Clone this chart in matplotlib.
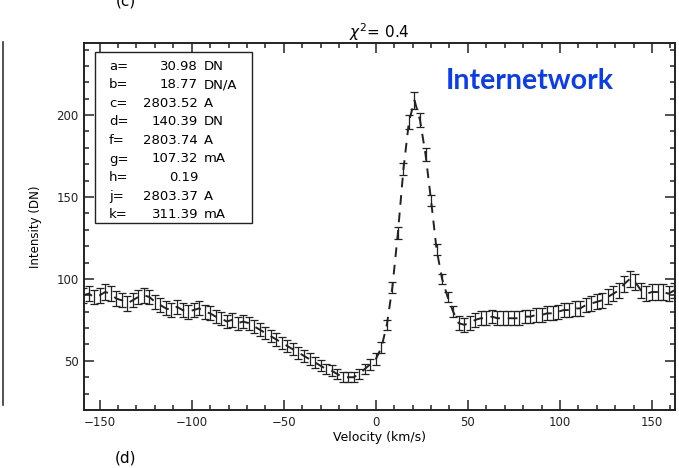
"""
Line profile with error bars: Internetwork, chi^2 = 0.4.
Writes out.png (679x468).
"""
import matplotlib.pyplot as plt
from matplotlib.ticker import MultipleLocator
from matplotlib.lines import Line2D

VEL = [
    -159, -156, -153, -150, -147, -144, -141, -138, -135, -132,
    -129, -126, -123, -120, -117, -114, -111, -108, -105, -102,
    -99, -96, -93, -90, -87, -84, -81, -78, -75, -72,
    -69, -66, -63, -60, -57, -54, -51, -48, -45, -42,
    -39, -36, -33, -30, -27, -24, -21, -18, -15, -12,
    -9, -6, -3, 0, 3, 6, 9, 12, 15, 18,
    21, 24, 27, 30, 33, 36, 39, 42, 45, 48,
    51, 54, 57, 60, 63, 66, 69, 72, 75, 78,
    81, 84, 87, 90, 93, 96, 99, 102, 105, 108,
    111, 114, 117, 120, 123, 126, 129, 132, 135, 138,
    141, 144, 147, 150, 153, 156, 159, 162,
]
INTENSITY = [
    90, 91, 89, 90, 92, 91, 88, 87, 85, 87,
    89, 90, 89, 86, 84, 82, 81, 83, 81, 80,
    81, 82, 80, 79, 77, 76, 74, 75, 73, 74,
    73, 71, 69, 67, 65, 63, 61, 59, 57, 55,
    53, 51, 49, 47, 45, 44, 42, 40, 40, 40,
    42, 45, 48, 51, 58, 72, 95, 128, 167, 196,
    209, 197, 176, 148, 118, 100, 89, 80, 73, 72,
    73, 75, 76, 76, 77, 76, 76, 76, 76, 76,
    77, 77, 78, 78, 79, 79, 80, 81, 81, 82,
    82, 84, 85, 86, 87, 89, 91, 93, 97, 100,
    98, 93, 91, 92, 92, 92, 91, 93,
]
ERROR = [
    4.5, 4.5, 4.5, 4.5, 4.6, 4.5, 4.4, 4.4, 4.4, 4.4,
    4.5, 4.5, 4.5, 4.4, 4.3, 4.3, 4.3, 4.3, 4.3, 4.2,
    4.3, 4.3, 4.2, 4.2, 4.2, 4.1, 4.1, 4.1, 4.0, 4.1,
    4.0, 4.0, 3.9, 3.9, 3.8, 3.8, 3.7, 3.7, 3.6, 3.6,
    3.5, 3.5, 3.4, 3.3, 3.3, 3.2, 3.2, 3.1, 3.1, 3.1,
    3.2, 3.3, 3.4, 3.5, 3.3, 3.2, 3.3, 3.5, 3.8, 4.2,
    5.0, 4.2, 3.8, 3.5, 3.3, 3.2, 3.3, 3.5, 4.1, 4.1,
    4.1, 4.2, 4.2, 4.2, 4.2, 4.2, 4.2, 4.2, 4.2, 4.2,
    4.2, 4.2, 4.3, 4.3, 4.3, 4.3, 4.3, 4.3, 4.3, 4.4,
    4.4, 4.4, 4.5, 4.5, 4.5, 4.6, 4.6, 4.7, 4.8, 4.8,
    4.8, 4.7, 4.6, 4.6, 4.6, 4.6, 4.6, 4.7,
]

PARAM_NAMES = ["a=", "b=", "c=", "d=", "f=", "g=", "h=", "j=", "k="]
PARAM_VALUES = ["30.98", "18.77", "2803.52", "140.39", "2803.74",
                "107.32", "0.19", "2803.37", "311.39"]
PARAM_UNITS = ["DN", "DN/A", "A", "DN", "A", "mA", "", "A", "mA"]

W, H = 679, 468


def plot():
    fig = plt.figure(figsize=(W / 100, H / 100), dpi=100)
    ax = fig.add_axes([84 / W, 1 - 410 / H, (675 - 84) / W, (410 - 43) / H])

    ax.errorbar(VEL, INTENSITY, yerr=ERROR, fmt="none", ecolor="#222222",
                elinewidth=0.9, capsize=2.7, capthick=0.9, zorder=3)
    ax.plot(VEL, INTENSITY, color="#222222", lw=1.4, dashes=(5, 4), zorder=2)

    ax.set_xlim(-158.5, 162.5)
    ax.set_ylim(20, 244)
    ax.xaxis.set_major_locator(MultipleLocator(50))
    ax.xaxis.set_minor_locator(MultipleLocator(10))
    ax.yaxis.set_major_locator(MultipleLocator(50))
    ax.yaxis.set_minor_locator(MultipleLocator(10))
    ax.set_yticks([50, 100, 150, 200])
    ax.tick_params(which="both", direction="in", top=True, right=True,
                   width=1.1, labelsize=8.5, colors="#222222")
    ax.tick_params(which="major", length=7.5, pad=4)
    ax.tick_params(which="minor", length=3.5)
    for s in ax.spines.values():
        s.set_linewidth(1.4)
        s.set_color("#222222")

    ax.set_xlabel("Velocity (km/s)", fontsize=9, labelpad=2)
    ax.set_ylabel("Intensity (DN)", fontsize=8.5, labelpad=10)
    ax.set_title(r"$\chi^2$= 0.4", fontsize=11, pad=2)

    # fit parameter box
    box_l, box_r, box_t, box_b = 95, 252, 52, 223
    fig.add_artist(plt.Rectangle((box_l / W, 1 - box_b / H),
                                 (box_r - box_l) / W, (box_b - box_t) / H,
                                 transform=fig.transFigure, fill=False,
                                 lw=1.0, ec="#222222", zorder=5))
    y0, dy = 66, 18.6
    for i, (n, v, u) in enumerate(zip(PARAM_NAMES, PARAM_VALUES, PARAM_UNITS)):
        y = 1 - (y0 + i * dy) / H
        fig.text(109 / W, y, n, fontsize=9.5, va="center", ha="left")
        fig.text(198 / W, y, v, fontsize=9.5, va="center", ha="right")
        fig.text(204 / W, y, u, fontsize=9.5, va="center", ha="left")

    fig.text(530 / W, 1 - 81 / H, "Internetwork", fontsize=20.5, fontweight="bold",
             color="#0a3cf0", ha="center", va="center", family="Lato")

    fig.text(126 / W, 1 - 458 / H, "(d)", fontsize=11, ha="center", va="center")
    fig.text(126 / W, 1 - 1 / H, "(c)", fontsize=11, ha="center", va="center")

    # edge of the neighbouring panel
    fig.add_artist(Line2D([3 / W, 3 / W], [1 - 405 / H, 1 - 42 / H],
                          transform=fig.transFigure, color="#333333", lw=1.2))

    fig.savefig("out.png", dpi=100)
    plt.close(fig)


if __name__ == "__main__":
    plot()
